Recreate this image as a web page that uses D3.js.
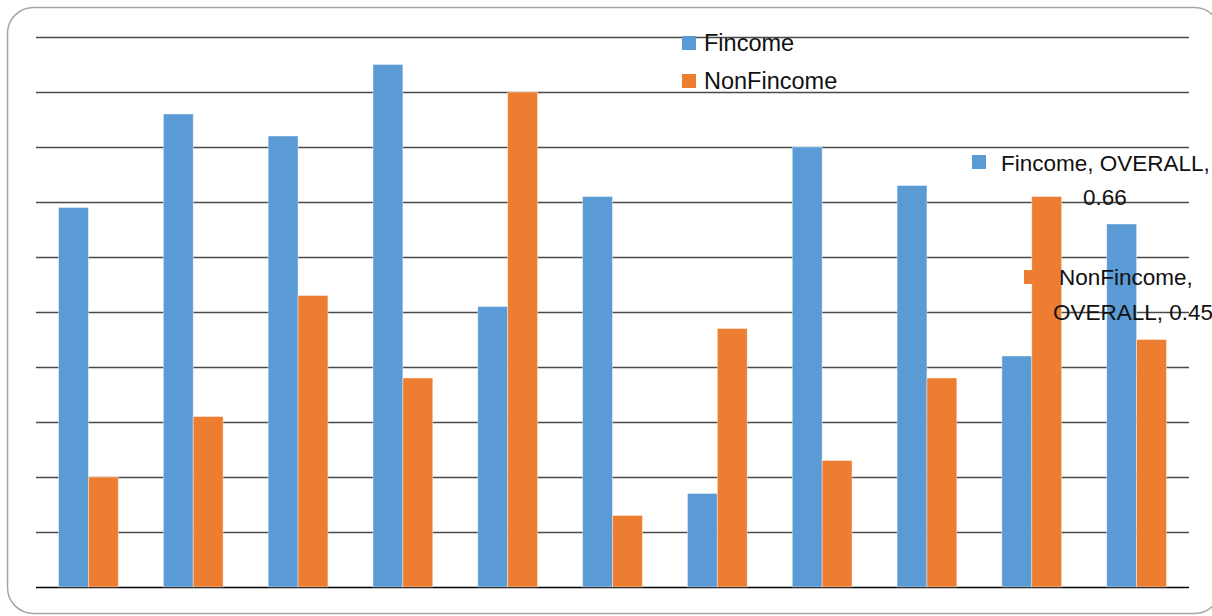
<!DOCTYPE html>
<html>
<head>
<meta charset="utf-8">
<script src="https://cdn.jsdelivr.net/npm/d3@7"></script>
<style>
  body { margin: 0; background: #fff; }
  text { font-family: "Liberation Sans", Arial, sans-serif; }
</style>
</head>
<body>
<div id="svg-area"></div>
<script>
// chart data
var groups = ["G1", "G2", "G3", "G4", "G5", "G6", "G7", "G8", "G9", "G10", "OVERALL"];
var seriesNames = ["Fincome", "NonFincome"];
var fincome = [0.69, 0.86, 0.82, 0.95, 0.51, 0.71, 0.17, 0.80, 0.73, 0.42, 0.66];
var nonFincome = [0.20, 0.31, 0.53, 0.38, 0.90, 0.13, 0.47, 0.23, 0.38, 0.71, 0.45];
var gridTicks = [0, 0.1, 0.2, 0.3, 0.4, 0.5, 0.6, 0.7, 0.8, 0.9, 1.0];
var colors = ["#5b9bd5", "#ed7d31"];

var svgWidth = 1212, svgHeight = 616;
var margin = { top: 37, right: 23, bottom: 29, left: 36 };
var width = svgWidth - margin.left - margin.right;
var height = svgHeight - margin.top - margin.bottom;

var svg = d3.select("#svg-area")
    .append("svg")
    .attr("width", svgWidth)
    .attr("height", svgHeight)
;

// rounded frame
svg.append("rect")
    .attr("x", 7.5).attr("y", 7.5)
    .attr("width", 1213).attr("height", 606)
    .attr("rx", 26).attr("ry", 26)
    .attr("fill", "#fff")
    .attr("stroke", "#a6a6a6")
    .attr("stroke-width", 1.5)
;

var chartGroup = svg.append("g")
    .attr("transform", `translate(${margin.left}, ${margin.top})`)
;

var yScale = d3.scaleLinear().domain([0, 1]).range([height, 0]);
var x0 = d3.scaleBand().domain(groups).range([0, width]).padding(0);
var x1 = d3.scaleBand().domain(seriesNames)
    .range([x0.bandwidth() * 0.215, x0.bandwidth() * 0.785])
;

// horizontal grid
chartGroup.append("g")
    .call(d3.axisLeft(yScale).tickValues(gridTicks).tickSize(-width).tickFormat(""))
    .call(g => g.select(".domain").remove())
    .call(g => g.selectAll(".tick line")
        .attr("stroke", (d, i) => d === 0 ? "#000" : "#4a4a4a")
        .attr("stroke-width", 1.6))
;

// bars
var rows = groups.map((g, i) => ({ group: g, values: [fincome[i], nonFincome[i]] }));

var barGroup = chartGroup.selectAll(".grp")
    .data(rows)
    .enter()
    .append("g")
    .attr("transform", d => `translate(${x0(d.group)}, 0)`)
;

barGroup.selectAll("rect")
    .data(d => d.values.map((v, j) => ({ key: seriesNames[j], value: v, j: j })))
    .enter()
    .append("rect")
    .attr("x", d => x1(d.key))
    .attr("y", d => yScale(d.value))
    .attr("width", x1.bandwidth())
    .attr("height", d => height - yScale(d.value))
    .attr("fill", d => colors[d.j])
    .attr("stroke", "rgba(255,255,255,0.5)")
    .attr("stroke-width", 0.8)
;

// legend
var legend = svg.append("g");
seriesNames.forEach(function(name, i) {
    legend.append("rect")
        .attr("x", 682).attr("y", 36 + i * 38)
        .attr("width", 14).attr("height", 14)
        .attr("fill", colors[i]);
    legend.append("text")
        .attr("x", 704).attr("y", 51 + i * 38)
        .attr("font-size", 23.5)
        .attr("fill", "#111")
        .text(name);
});

// data labels for the OVERALL group
var labels = svg.append("g").attr("font-size", 22.5).attr("fill", "#111");
labels.append("rect").attr("x", 972).attr("y", 155).attr("width", 14).attr("height", 14).attr("fill", colors[0]);
labels.append("text").attr("x", 1001).attr("y", 171).text("Fincome, OVERALL,");
labels.append("text").attr("x", 1105).attr("y", 205).attr("text-anchor", "middle").text(fincome[10].toFixed(2));
labels.append("rect").attr("x", 1024).attr("y", 270).attr("width", 14).attr("height", 14).attr("fill", colors[1]);
labels.append("text").attr("x", 1059).attr("y", 285).text("NonFincome,");
labels.append("text").attr("x", 1053).attr("y", 320).text("OVERALL, " + nonFincome[10].toFixed(2));
</script>
</body>
</html>
